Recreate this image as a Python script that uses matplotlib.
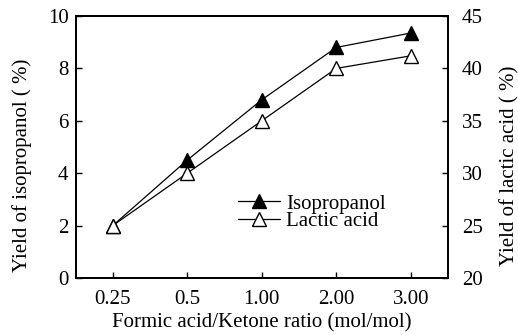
import matplotlib
matplotlib.use('Agg')
import matplotlib.pyplot as plt

ratios = ['0.25', '0.5', '1.00', '2.00', '3.00']
isopropanol = [2.0, 4.5, 6.8, 8.8, 9.35]
lactic_acid = [25.0, 30.0, 35.0, 40.0, 41.2]

plt.rcParams['font.family'] = ['Liberation Serif', 'DejaVu Serif']
plt.rcParams['font.size'] = 15

fig = plt.figure(figsize=(5.18, 3.35), dpi=100)
ax = fig.add_axes([75.5/518, 1 - 278/335, (448 - 75.5)/518, (278 - 16)/335])
ax2 = ax.twinx()

x = list(range(len(ratios)))
l1, = ax.plot(x, isopropanol, color='black', lw=0.9, marker='^', ms=10.5,
              mfc='black', mec='black', label='Isopropanol')
l2, = ax2.plot(x, lactic_acid, color='black', lw=0.9, marker='^', ms=10.5,
               mfc='white', mec='black', label='Lactic acid')

ax.set_xlim(-0.5, 4.5)
ax.set_ylim(0, 10)
ax2.set_ylim(20, 45)
ax.set_xticks(x)
ax.set_xticklabels(ratios)
ax.set_yticks(range(0, 11, 2))
ax2.set_yticks(range(20, 46, 5))

ax.tick_params(axis='y', direction='in', length=4, width=1, pad=5)
ax.tick_params(axis='x', direction='in', length=4, width=1, pad=9)
ax2.tick_params(direction='in', length=4, width=1, pad=10)
for a in (ax, ax2):
    for s in a.spines.values():
        s.set_linewidth(1.3)

ax.set_xlabel('Formic acid/Ketone ratio (mol/mol)', labelpad=3)
ax.set_ylabel('Yield of isopropanol ( %)')
ax2.set_ylabel('Yield of lactic acid ( %)')
ax.yaxis.set_label_coords(-0.117, 0.43)
ax2.yaxis.set_label_coords(1.139, 0.43)

ax.legend([l1, l2], ['Isopropanol', 'Lactic acid'], loc='center left',
          bbox_to_anchor=(0.436, 0.25), frameon=False, handlelength=2.0,
          handletextpad=0.3, borderpad=0, borderaxespad=0,
          labelspacing=-0.1, fontsize=15)

fig.savefig('out.png', dpi=100)
